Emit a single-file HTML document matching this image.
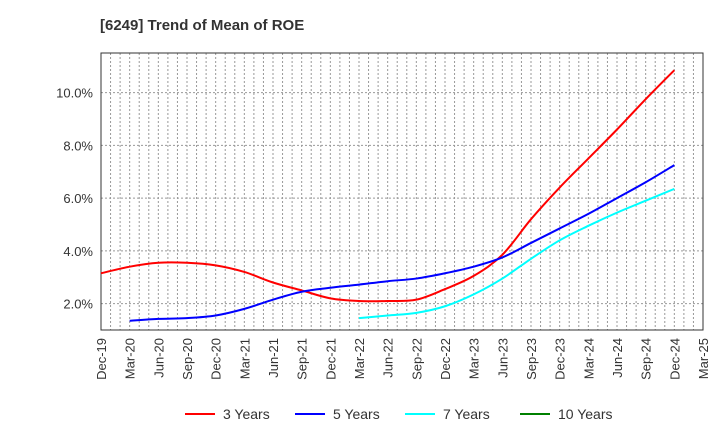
<!DOCTYPE html>
<html><head><meta charset="utf-8"><style>
body{margin:0;background:#fff;font-family:"Liberation Sans",Arial,sans-serif}
svg{display:block}
</style></head><body>
<svg id="c" width="720" height="440" xmlns="http://www.w3.org/2000/svg">
<text x="100" y="30" font-size="15" font-weight="bold" fill="#333">[6249]  Trend of Mean of ROE</text>
</svg>
<script>
const xLabels=["Dec-19","Mar-20","Jun-20","Sep-20","Dec-20","Mar-21","Jun-21","Sep-21","Dec-21","Mar-22","Jun-22","Sep-22","Dec-22","Mar-23","Jun-23","Sep-23","Dec-23","Mar-24","Jun-24","Sep-24","Dec-24","Mar-25"];
const yTicks=[2,4,6,8,10];
const s3=[3.15,3.4,3.55,3.55,3.45,3.2,2.8,2.5,2.2,2.1,2.1,2.15,2.55,3.05,3.85,5.2,6.4,7.5,8.6,9.75,10.85];
const s5=[1.35,1.42,1.45,1.55,1.8,2.15,2.45,2.6,2.72,2.85,2.95,3.15,3.4,3.75,4.3,4.85,5.4,6.0,6.6,7.25];
const s7=[1.45,1.55,1.65,1.9,2.35,2.95,3.7,4.4,4.95,5.45,5.9,6.35];
const s10=[];
const series=[{n:"3 Years",c:"#ff0000",d:s3,o:0},{n:"5 Years",c:"#0000ff",d:s5,o:1},{n:"7 Years",c:"#00ffff",d:s7,o:9},{n:"10 Years",c:"#008000",d:s10,o:0}];
const L=101,R=703,T=53,B=330,ymin=1.0,ymax=11.5;
const svg=document.getElementById('c'),NS="http://www.w3.org/2000/svg";
const X=i=>L+(R-L)*i/(xLabels.length-1);
const Y=v=>B-(v-ymin)/(ymax-ymin)*(B-T);
function el(t,a,p){const e=document.createElementNS(NS,t);for(const k in a)e.setAttribute(k,a[k]);(p||svg).appendChild(e);return e;}
for(let m=1;m<(xLabels.length-1)*3;m++){const x=L+(R-L)*m/((xLabels.length-1)*3);
const g=el('line',{x1:x,x2:x,y1:T,y2:B,stroke:'#999','stroke-dasharray':'2,2','stroke-width':1});

}
yTicks.forEach(v=>{const g=el('line',{x1:L,x2:R,y1:Y(v),y2:Y(v),stroke:'#999','stroke-dasharray':'2,2'});


const t=el('text',{x:L-8,y:Y(v)+5,'text-anchor':'end','font-size':13,fill:'#333'});t.textContent=v.toFixed(1)+'%';

});
const fr=el('rect',{x:L,y:T,width:R-L,height:B-T,fill:'none',stroke:'#333','stroke-width':1});


xLabels.forEach((l,i)=>{const t=el('text',{transform:`translate(${X(i)+5},${B+8}) rotate(-90)`,'text-anchor':'end','font-size':13,fill:'#333'});t.textContent=l;

});
series.forEach(s=>{if(!s.d.length)return;const p=s.d.map((v,i)=>[X(i+s.o),Y(v)]);
let d=`M${p[0][0]},${p[0][1]}`;
for(let i=0;i<p.length-1;i++){const p0=p[i-1]||p[i],p1=p[i],p2=p[i+1],p3=p[i+2]||p2;
d+=` C${p1[0]+(p2[0]-p0[0])/6},${p1[1]+(p2[1]-p0[1])/6} ${p2[0]-(p3[0]-p1[0])/6},${p2[1]-(p3[1]-p1[1])/6} ${p2[0]},${p2[1]}`;}
const e=el('path',{d:d,fill:'none',stroke:s.c,'stroke-width':2});

});
const lx=[185,295,405,520];
series.forEach((s,i)=>{const l=el('line',{x1:lx[i],x2:lx[i]+30,y1:414,y2:414,stroke:s.c,'stroke-width':2});


const t=el('text',{x:lx[i]+38,y:419,'font-size':14,fill:'#333'});t.textContent=s.n;

});
</script>
</body></html>
